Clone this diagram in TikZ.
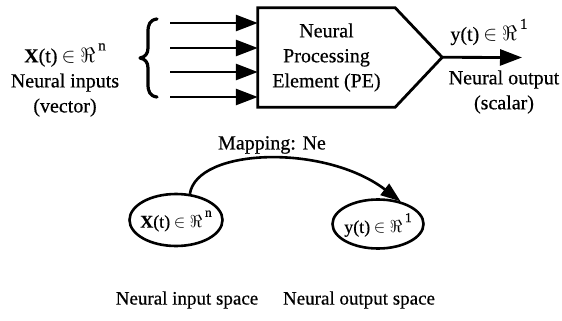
\documentclass[tikz,border=0pt]{standalone}
\usepackage{fontspec}
\setmainfont{Liberation Serif}[FakeBold=0.5]
\usetikzlibrary{arrows.meta,shapes.geometric}

% raised exponent set apart from the base, as in the typeset labels
\newcommand{\spacepow}[1]{\hspace{0.15em}\raisebox{0.6em}{\fontsize{0.75em}{1em}\selectfont #1}}
\newcommand{\invec}{\textbf{X}(t)\kern0.2em$\in$\kern0.25em$\Re$\spacepow{n}}
\newcommand{\outsc}{y(t)\kern0.2em$\in$\kern0.25em$\Re$\spacepow{1}}

\begin{document}
\begin{tikzpicture}[x=1pt,y=-1pt,
  lbl/.style={font=\fontsize{20}{25}\selectfont, align=center, inner sep=0pt},
  spacecap/.style={font=\fontsize{19}{25}\selectfont, inner sep=0pt},
  spacetxt/.style={font=\fontsize{18}{20}\selectfont, inner sep=0pt},
  wire/.style={line width=2.8pt, -{Triangle[length=22pt,width=16pt]}},
  outline/.style={line width=2.8pt, line join=miter},
  space/.style={ellipse, draw, line width=2.6pt, inner sep=0pt},
  maparrow/.style={line width=2.6pt, -{Triangle[length=20pt,width=14pt]}},
  bracestroke/.style={line width=3.2pt, line cap=round, line join=round}]
\useasboundingbox (0,0) rectangle (562,321);

% ---- input vector and its label ----
\node[lbl] (inlbl) at (65,80) {\invec\\Neural inputs\\(vector)};

% curly brace grouping the inputs
\draw[bracestroke] (157,19) .. controls (150,20) and (148,24) .. (148,32)
  -- (148,48) .. controls (148,54) and (145,57) .. (140,58)
  .. controls (145,59) and (148,62) .. (148,68)
  -- (148,84) .. controls (148,92) and (150,96) .. (157,97);

% ---- processing element ----
\node[lbl, minimum width=137, minimum height=99] (pe) at (326.5,57.5)
  {Neural\\Processing\\Element (PE)};
\draw[outline] (pe.north west) -- (pe.north east) -- ++(47,49.5) coordinate (tip)
  -- (pe.south east) -- (pe.south west) -- cycle;

% input lines
\foreach \k/\yy in {1/23, 2/48, 3/72, 4/97} {
  \coordinate (i\k) at (170,\yy);
  \draw[wire] (i\k) -- (i\k -| pe.west);
}

% output line
\coordinate (out) at (522,57.5);
\draw[wire] (tip) -- (out);
\node[lbl] (outlbl) at (489,32) {\outsc};
\node[lbl] (outcap) at (504,92) {Neural output\\(scalar)};

% ---- mapping between the spaces ----
\node[space, minimum width=93, minimum height=52] (ins) at (176,220) {};
\node[spacetxt] (instxt) at ([yshift=-1pt]ins) {\invec};
\node[space, minimum width=91, minimum height=49] (outs) at (378,224) {};
\node[spacetxt] (outstxt) at ([yshift=-1pt]outs) {\outsc};
\node[lbl] (map) at (272,145) {Mapping: Ne};
\draw[maparrow] (ins.62) .. controls +(7,-46) and +(-76,-58) .. (outs.45);

\node[spacecap] (inscap) at (187,300) {Neural input space};
\node[spacecap] (outscap) at (359,300) {Neural output space};
\end{tikzpicture}
\end{document}
